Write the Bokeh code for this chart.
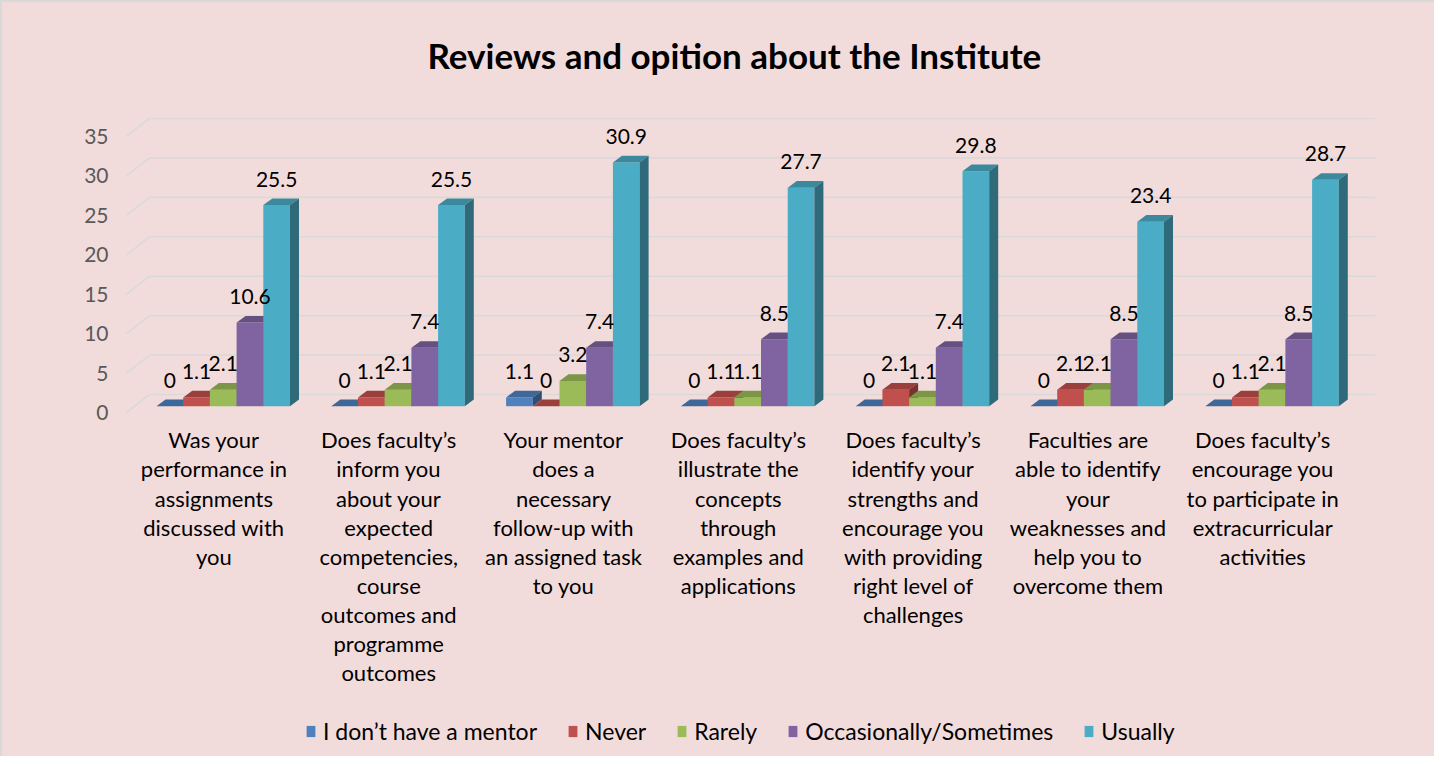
from bokeh.plotting import figure
from bokeh.models import Range1d, Legend, LegendItem, FixedTicker, LinearAxis, InlineStyleSheet, GlobalInlineStyleSheet
from bokeh.core.properties import value
from bokeh.embed import file_html
from bokeh.resources import INLINE

# ---------------- data ----------------
title_text = "Reviews and opition about the  Institute"
categories = [
    "Was your\nperformance in\nassignments\ndiscussed with\nyou",
    "Does faculty\u2019s\ninform you\nabout your\nexpected\ncompetencies,\ncourse\noutcomes and\nprogramme\noutcomes",
    "Your mentor\ndoes a\nnecessary\nfollow-up with\nan assigned task\nto you",
    "Does faculty\u2019s\nillustrate the\nconcepts\nthrough\nexamples and\napplications",
    "Does faculty\u2019s\nidentify your\nstrengths and\nencourage you\nwith providing\nright level of\nchallenges",
    "Faculties are\nable to identify\nyour\nweaknesses and\nhelp you to\novercome them",
    "Does faculty\u2019s\nencourage you\nto participate in\nextracurricular\nactivities",
]
series_names = ["I don\u2019t have a mentor", "Never", "Rarely", "Occasionally/Sometimes", "Usually"]
no_mentor = [0, 0, 1.1, 0, 0, 0, 0]
never = [1.1, 1.1, 0, 1.1, 2.1, 2.1, 1.1]
rarely = [2.1, 2.1, 3.2, 1.1, 1.1, 2.1, 2.1]
occasionally = [10.6, 7.4, 7.4, 8.5, 7.4, 8.5, 8.5]
usually = [25.5, 25.5, 30.9, 27.7, 29.8, 23.4, 28.7]
y_ticks = [0, 5, 10, 15, 20, 25, 30, 35]

series_values = [no_mentor, never, rarely, occasionally, usually]
front_colors = ["#4F81BD", "#C0504D", "#9BBB59", "#8064A2", "#4BACC6"]
BG = "#F2DCDB"


def shade(hex_color, f):
    h = hex_color.lstrip("#")
    r, g, b = (int(h[i:i + 2], 16) for i in (0, 2, 4))
    return "#%02x%02x%02x" % (int(r * f), int(g * f), int(b * f))


top_colors = [shade(c, 0.80) for c in front_colors]
side_colors = [shade(c, 0.62) for c in front_colors]

# ---------------- layout (pixels) ----------------
W, H = 1434, 756
MIN_LEFT, MIN_TOP = 102, 87
FRAME_LEFT, FRAME_TOP = 105, 89          # observed page px of the frame
FRAME_W, FRAME_H = W - MIN_LEFT, H - MIN_TOP
SLOT_ORIGIN, SLOT_PX = 127.0, 174.8      # category slot geometry (page px)
PX_PER_UNIT = 7.886
BASE_PX = 405.7                          # page y of bar baseline
AXIS_SHIFT = (412.0 - BASE_PX) / PX_PER_UNIT
BACK_SHIFT = (BASE_PX - 394.0) / PX_PER_UNIT

ymax = (BASE_PX - FRAME_TOP) / PX_PER_UNIT
ymin = ymax - FRAME_H / PX_PER_UNIT
xmin = (FRAME_LEFT - SLOT_ORIGIN) / SLOT_PX
xmax = xmin + FRAME_W / SLOT_PX

BAR0 = 30.0 / SLOT_PX
BW = 26.7 / SLOT_PX
DX = 9.0 / SLOT_PX
DY = 6.7 / PX_PER_UNIT

p = figure(width=W, height=H, output_backend="svg", toolbar_location=None,
           x_range=Range1d(xmin, xmax), y_range=Range1d(ymin, ymax),
           x_axis_location=None, y_axis_location=None,
           min_border_left=MIN_LEFT, min_border_top=MIN_TOP,
           min_border_right=0, min_border_bottom=0,
           background_fill_color=BG, border_fill_color=BG)
p.outline_line_color = None
p.xgrid.visible = False
p.ygrid.visible = False

p.title.text = title_text
p.title.align = "left"
p.title.text_font = "Lato"
p.title.text_font_size = "35px"
p.title.text_font_style = "bold"
p.title.text_color = "#000000"
p.title.offset = 428 - FRAME_LEFT
p.title.standoff = 27

p.extra_y_ranges = {"axis": Range1d(ymin + AXIS_SHIFT, ymax + AXIS_SHIFT)}
yaxis = LinearAxis(y_range_name="axis", ticker=FixedTicker(ticks=y_ticks),
                   axis_line_color=None, major_tick_line_color=None,
                   minor_tick_line_color=None, major_tick_out=0, major_tick_in=0,
                   major_label_standoff=-4, major_label_text_font="Lato",
                   major_label_text_font_size="21px", major_label_text_color="#595959")
p.add_layout(yaxis, "left")

# gridlines (3D back wall with perspective stub)
diag_x1 = 23.0 / SLOT_PX
grid_end = (1376.0 - SLOT_ORIGIN) / SLOT_PX
p.segment(x0=[0.0] * len(y_ticks), y0=[t - AXIS_SHIFT for t in y_ticks],
          x1=[diag_x1] * len(y_ticks), y1=[t + BACK_SHIFT for t in y_ticks],
          line_color="#D9D9D9", line_width=1.6)
p.segment(x0=[diag_x1] * len(y_ticks), y0=[t + BACK_SHIFT for t in y_ticks],
          x1=[grid_end] * len(y_ticks), y1=[t + BACK_SHIFT for t in y_ticks],
          line_color="#D9D9D9", line_width=1.6)

legend_items = []
label_x, label_y, label_t = [], [], []
for j, vals in enumerate(series_values):
    lefts = [k + BAR0 + j * BW for k in range(len(categories))]
    rights = [l + BW for l in lefts]
    r = p.quad(left=lefts, right=rights, bottom=[0] * len(vals), top=vals,
               fill_color=front_colors[j], line_color=None)
    legend_items.append(LegendItem(label=series_names[j], renderers=[r]))
    p.patches(xs=[[l, rr, rr + DX, l + DX] for l, rr in zip(lefts, rights)],
              ys=[[v, v, v + DY, v + DY] for v in vals],
              fill_color=top_colors[j], line_color=None)
    p.patches(xs=[[rr, rr + DX, rr + DX, rr] for rr in rights],
              ys=[[0, DY, v + DY, v] for v in vals],
              fill_color=side_colors[j], line_color=None)
    for l, v in zip(lefts, vals):
        label_x.append(l + BW / 2)
        label_y.append(v)
        label_t.append(f"{v:g}")

p.text(x=label_x, y=label_y, text=label_t, text_align="center", text_baseline="middle",
       y_offset=-26, text_font=value("Lato"), text_font_size="21px", text_color="#000000")

p.text(x=[k + 0.5 for k in range(len(categories))], y=[0] * len(categories), text=categories,
       text_align="center", text_baseline="top", y_offset=20,
       text_font=value("Lato"), text_font_size="22px", text_color="#000000",
       text_line_height=1.08)

legend = Legend(items=legend_items, orientation="horizontal",
                location=(306 - FRAME_LEFT, 13),
                background_fill_alpha=0, border_line_color=None,
                label_text_font="Lato", label_text_font_size="23px",
                label_text_color="#000000", glyph_width=11, glyph_height=14,
                label_standoff=7, spacing=30, padding=0, margin=0)
p.add_layout(legend, "center")

p.stylesheets = [
    InlineStyleSheet(css=":host { background: #F2DCDB; border-left: 2px solid #d9d9d9; border-top: 2px solid #d9d9d9; }"),
    GlobalInlineStyleSheet(css="html, body { overflow: hidden; }"),
]

open("out.html", "w").write(file_html(p, INLINE))
